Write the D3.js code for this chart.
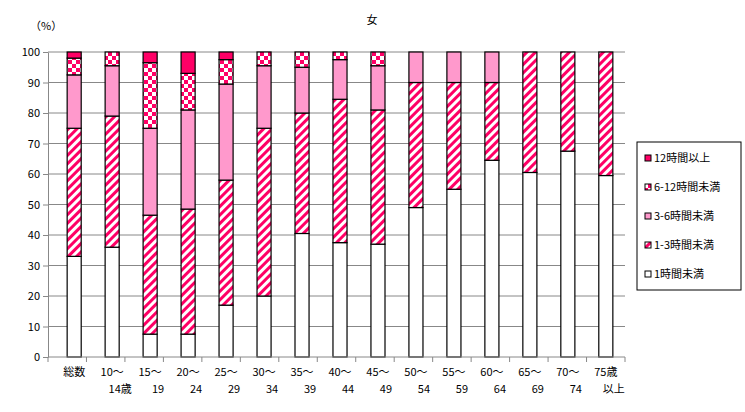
<!DOCTYPE html><html><head><meta charset="utf-8"><script src="https://cdn.jsdelivr.net/npm/d3@7"></script>
<style>body{margin:0;background:#fff}text{font-family:"Noto Sans CJK JP",sans-serif;font-size:11px}</style></head><body>
<svg id="c" width="745" height="412"></svg>
<script>
const categories=["総数","10〜\n14歳","15〜\n19","20〜\n24","25〜\n29","30〜\n34","35〜\n39","40〜\n44","45〜\n49","50〜\n54","55〜\n59","60〜\n64","65〜\n69","70〜\n74","75歳\n以上"];
const seriesNames=["1時間未満","1-3時間未満","3-6時間未満","6-12時間未満","12時間以上"];
const under1=[33,36,7.5,7.5,17,20,40.5,37.5,37,49,55,64.5,60.5,67.5,59.5];
const h1to3=[42,43,39,41,41,55,39.5,47,44,41,35,25.5,39.5,32.5,40.5];
const h3to6=[17.5,16.5,28.5,32.5,31.5,20.5,15,13,14.5,10,10,10,0,0,0];
const h6to12=[5.5,4.5,21.5,12,8,4.5,5,2.5,4.5,0,0,0,0,0,0];
const h12plus=[2,0,3.5,7,2.5,0,0,0,0,0,0,0,0,0,0];
const yTicks=[0,10,20,30,40,50,60,70,80,90,100];
const series=[under1,h1to3,h3to6,h6to12,h12plus];
const svg=d3.select("#c");
const defs=svg.append("defs");
const st=defs.append("pattern").attr("id","stripe").attr("patternUnits","userSpaceOnUse").attr("width",6).attr("height",6).attr("patternTransform","rotate(45)");
st.append("rect").attr("width",6).attr("height",6).attr("fill","#fff");
st.append("rect").attr("width",3).attr("height",6).attr("fill","#ff0066");
const ck=defs.append("pattern").attr("id","check").attr("patternUnits","userSpaceOnUse").attr("width",8).attr("height",8);
ck.append("rect").attr("width",8).attr("height",8).attr("fill","#fff");
ck.append("rect").attr("width",4).attr("height",4).attr("fill","#ff0066");
ck.append("rect").attr("x",4).attr("y",4).attr("width",4).attr("height",4).attr("fill","#ff0066");
const fills=["#fff","url(#stripe)","#ff99cc","url(#check)","#ff0066"];
const x=d3.scaleBand().domain(categories).range([55,625]).paddingInner(0.63).paddingOuter(0.32);
const y=d3.scaleLinear().domain([0,100]).range([357,52]);
svg.append("g").selectAll("line").data(yTicks.slice(1)).join("line").attr("x1",48).attr("x2",625).attr("y1",d=>y(d)).attr("y2",d=>y(d)).attr("stroke","#888");
const stack=categories.map((c,i)=>{let acc=0;return series.map((s,k)=>{const v=s[i];const r={c,k,y0:acc,y1:acc+v};acc+=v;return r;});});
svg.append("g").selectAll("rect").data(stack.flat().filter(d=>d.y1>d.y0)).join("rect")
 .attr("x",d=>x(d.c)).attr("width",x.bandwidth()).attr("y",d=>y(d.y1)).attr("height",d=>y(d.y0)-y(d.y1))
 .attr("fill",d=>fills[d.k]).attr("stroke","#000").attr("stroke-width",1.2);
const ya=svg.append("g").attr("transform","translate(48,0)").call(d3.axisLeft(y).tickValues(yTicks).tickSize(5).tickSizeOuter(0));
ya.select(".domain").attr("stroke","#888");ya.selectAll(".tick line").attr("stroke","#888");
ya.selectAll("text").attr("font-size",10).attr("font-family","Noto Sans CJK JP");
const xa=svg.append("g").attr("transform","translate(0,357)").call(d3.axisBottom(x).tickSize(0).tickSizeOuter(0).tickFormat(""));
xa.select(".domain").attr("stroke","#888").attr("d","M48,0H625");
const bw=x.step();
svg.append("g").selectAll("line").data(d3.range(categories.length+1)).join("line")
 .attr("x1",d=>48+d*(577/15)).attr("x2",d=>48+d*(577/15)).attr("y1",357).attr("y2",362).attr("stroke","#888");
categories.forEach((c,i)=>{const parts=c.split("\n");const cx=x(c)+x.bandwidth()/2;
 svg.append("text").attr("x",cx).attr("y",376).attr("text-anchor","middle").text(parts[0]);
 if(parts[1])svg.append("text").attr("x",cx+(i==0?0:8)).attr("y",393).attr("text-anchor","middle").text(parts[1]);});
svg.append("text").attr("x",372).attr("y",24).attr("text-anchor","middle").attr("font-size",14).text("女");
svg.append("text").attr("x",30).attr("y",30).attr("font-size",11).text("（%）");
const lg=svg.append("g");
lg.append("rect").attr("x",637).attr("y",142).attr("width",104).attr("height",148).attr("fill","#fff").attr("stroke","#000");
const order=[4,3,2,1,0];
order.forEach((k,j)=>{const yy=160+j*29;
 lg.append("rect").attr("x",645).attr("y",yy-5).attr("width",6).attr("height",6).attr("fill",fills[k]).attr("stroke","#000");
 lg.append("text").attr("x",654).attr("y",yy+2).attr("font-size",11).text(k==4?"12時間以上":k==3?"6-12時間未満":seriesNames[k]);});
</script></body></html>
